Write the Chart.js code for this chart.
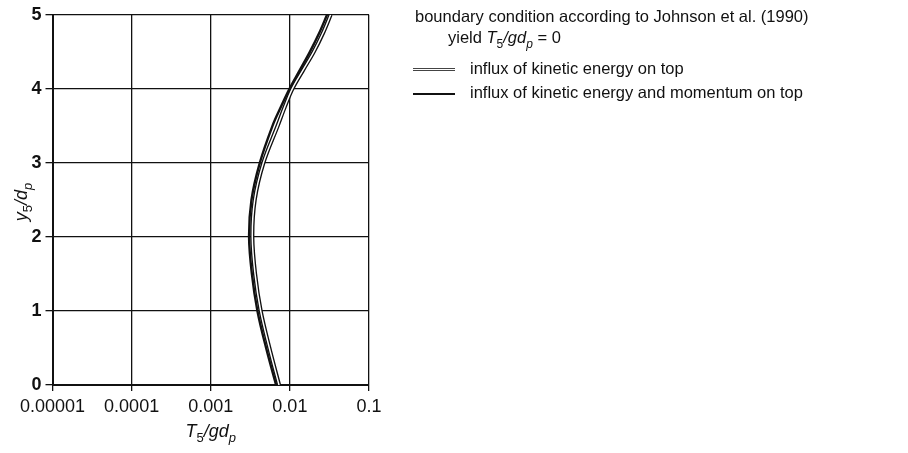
<!DOCTYPE html>
<html>
<head>
<meta charset="utf-8">
<title>Granular temperature profile</title>
<script src="https://cdn.jsdelivr.net/npm/chart.js@4.4.1/dist/chart.umd.min.js"></script>
<style>
  html, body { margin: 0; padding: 0; background: #fff; }
  #wrap { position: relative; width: 908px; height: 453px; }
</style>
</head>
<body>
<div id="wrap"><canvas id="chart"></canvas></div>
<script>
// ─── Data ──────────────────────────────────────────
const yLevels = [0, 0.5, 1, 1.5, 2, 2.5, 3, 3.5, 3.75, 4, 4.25, 4.5, 4.75, 5];
// influx of kinetic energy on top (double line)
const kineticTop = [0.00729, 0.00550, 0.00427, 0.00363, 0.00335, 0.00359, 0.00462, 0.00700, 0.00857, 0.01072, 0.01459, 0.0200, 0.0261, 0.0327];
// influx of kinetic energy and momentum on top (solid line)
const momentumTop = [0.00670, 0.00501, 0.00389, 0.00331, 0.00305, 0.00327, 0.00417, 0.00603, 0.00766, 0.00989, 0.0133, 0.0179, 0.0234, 0.0295];

const xTicks = [0.00001, 0.0001, 0.001, 0.01, 0.1];
const xTickLabels = ['0.00001', '0.0001', '0.001', '0.01', '0.1'];
const yTicks = [0, 1, 2, 3, 4, 5];

const FONT = "'Liberation Sans', Arial, Helvetica, sans-serif";
const INK = '#111';

const toPoints = xs => xs.map((x, i) => ({ x: x, y: yLevels[i] }));

// ─── Rich text helper (italic + subscripts) ────────
function richWidth(ctx, parts, size) {
  let w = 0;
  parts.forEach(p => {
    ctx.font = (p.it ? 'italic ' : '') + (p.sub ? Math.round(size * 0.72) : size) + 'px ' + FONT;
    w += ctx.measureText(p.t).width;
  });
  return w;
}
function drawRich(ctx, parts, x, y, size, align) {
  let cx = align === 'center' ? x - richWidth(ctx, parts, size) / 2 : x;
  ctx.textBaseline = 'alphabetic';
  ctx.textAlign = 'left';
  parts.forEach(p => {
    const s = p.sub ? Math.round(size * 0.72) : size;
    ctx.font = (p.it ? 'italic ' : '') + s + 'px ' + FONT;
    ctx.fillText(p.t, cx, p.sub ? y + size * 0.3 : y);
    cx += ctx.measureText(p.t).width;
  });
}

const T_OVER_GD = [
  { t: 'T', it: true }, { t: '5', sub: true }, { t: '/gd', it: true }, { t: 'p', it: true, sub: true }
];
const Y_OVER_D = [
  { t: 'y', it: true }, { t: '5', sub: true }, { t: '/d', it: true }, { t: 'p', it: true, sub: true }
];

// ─── Annotation plugin ─────────────────────────────
const annotations = {
  id: 'annotations',
  afterDraw(chart) {
    const ctx = chart.ctx;
    const a = chart.chartArea;
    ctx.save();
    ctx.fillStyle = INK;

    // axis titles
    drawRich(ctx, T_OVER_GD, (a.left + a.right) / 2, 437, 18, 'center');
    ctx.save();
    ctx.translate(27, (a.top + a.bottom) / 2 + 2);
    ctx.rotate(-Math.PI / 2);
    drawRich(ctx, Y_OVER_D, 0, 0, 18, 'center');
    ctx.restore();

    // legend block
    ctx.font = '16.5px ' + FONT;
    ctx.textAlign = 'left';
    ctx.textBaseline = 'alphabetic';
    ctx.fillText('boundary condition according to Johnson et al. (1990)', 415, 22);
    drawRich(ctx, [{ t: 'yield ' }].concat(T_OVER_GD, [{ t: ' = 0' }]), 448, 43, 16.5, 'left');
    ctx.font = '16.5px ' + FONT;
    ctx.fillText('influx of kinetic energy on top', 470, 74);
    ctx.fillText('influx of kinetic energy and momentum on top', 470, 98);

    // legend samples
    ctx.lineCap = 'butt';
    ctx.strokeStyle = '#444';
    ctx.lineWidth = 3;
    ctx.beginPath(); ctx.moveTo(413, 69.5); ctx.lineTo(455, 69.5); ctx.stroke();
    ctx.strokeStyle = '#fff';
    ctx.lineWidth = 1.2;
    ctx.beginPath(); ctx.moveTo(413, 69.5); ctx.lineTo(455, 69.5); ctx.stroke();
    ctx.strokeStyle = INK;
    ctx.lineWidth = 2;
    ctx.beginPath(); ctx.moveTo(413, 94); ctx.lineTo(455, 94); ctx.stroke();
    ctx.restore();
  }
};

// ─── Chart ─────────────────────────────────────────
new Chart(document.getElementById('chart'), {
  type: 'scatter',
  data: {
    datasets: [
      { label: 'influx of kinetic energy and momentum on top', data: toPoints(momentumTop),
        showLine: true, borderColor: INK, borderWidth: 2.4, pointRadius: 0, tension: 0.35, order: 0 },
      { label: 'inner', data: toPoints(kineticTop),
        showLine: true, borderColor: '#fff', borderWidth: 1.5, pointRadius: 0, tension: 0.35, order: 1 },
      { label: 'influx of kinetic energy on top', data: toPoints(kineticTop),
        showLine: true, borderColor: INK, borderWidth: 4.2, pointRadius: 0, tension: 0.35, order: 2 }
    ]
  },
  options: {
    responsive: true, maintainAspectRatio: false, animation: false,
    layout: { padding: { left: 0, top: 12, right: 539, bottom: 38 } },
    plugins: { legend: { display: false }, tooltip: { enabled: false } },
    scales: {
      x: {
        type: 'logarithmic', min: 0.00001, max: 0.1,
        afterBuildTicks: s => { s.ticks = xTicks.map(v => ({ value: v })); },
        afterFit: s => { s.height = 30; },
        grid: { color: INK, lineWidth: 1.3, tickLength: 6 },
        border: { color: INK, width: 2 },
        ticks: { color: INK, padding: 5, maxRotation: 0, autoSkip: false,
          font: { family: FONT, size: 18 },
          callback: (v, i) => xTickLabels[i] }
      },
      y: {
        min: 0, max: 5,
        afterBuildTicks: s => { s.ticks = yTicks.map(v => ({ value: v })); },
        afterFit: s => { s.width = 52.5; },
        grid: { color: INK, lineWidth: 1.3, tickLength: 7 },
        border: { color: INK, width: 2 },
        ticks: { color: INK, padding: 4, font: { family: FONT, size: 18, weight: 'bold' } }
      }
    }
  },
  plugins: [annotations]
});
</script>
</body>
</html>
